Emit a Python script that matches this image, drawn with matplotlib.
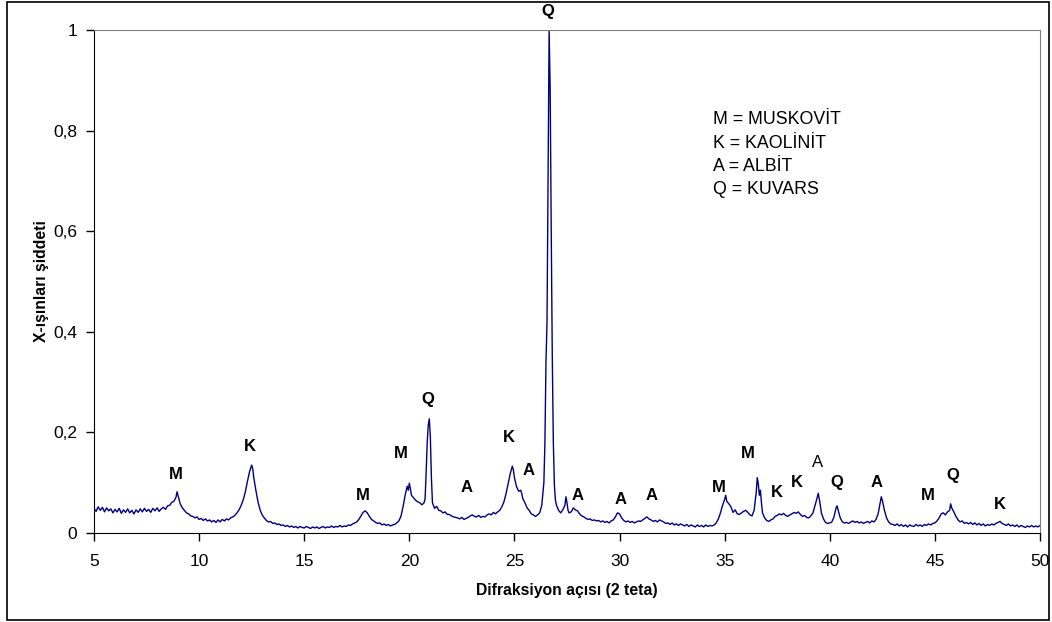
import numpy as np
import matplotlib.pyplot as plt
from matplotlib.patches import Rectangle

plt.rcParams['font.family'] = ['Liberation Sans', 'DejaVu Sans']

# 2 teta (derece)
angle = [
    5.0, 5.1, 5.2, 5.3, 5.4, 5.5, 5.6, 5.7, 5.8, 5.9,
    6.0, 6.1, 6.2, 6.3, 6.4, 6.5, 6.6, 6.7, 6.8, 6.9,
    7.0, 7.1, 7.2, 7.3, 7.4, 7.5, 7.6, 7.7, 7.8, 7.9,
    8.0, 8.1, 8.2, 8.3, 8.4, 8.5, 8.6, 8.7, 8.8, 8.9,
    8.95, 9.0, 9.05, 9.1, 9.2, 9.3, 9.4, 9.5, 9.6, 9.7,
    9.8, 9.9, 10.0, 10.1, 10.2, 10.3, 10.4, 10.5, 10.6, 10.7,
    10.8, 10.9, 11.0, 11.1, 11.2, 11.3, 11.4, 11.5, 11.6, 11.7,
    11.8, 11.9, 12.0, 12.1, 12.2, 12.3, 12.4, 12.5, 12.55, 12.6,
    12.7, 12.8, 12.9, 13.0, 13.1, 13.2, 13.3, 13.4, 13.5, 13.6,
    13.7, 13.8, 13.9, 14.0, 14.1, 14.2, 14.3, 14.4, 14.5, 14.6,
    14.7, 14.8, 14.9, 15.0, 15.1, 15.2, 15.3, 15.4, 15.5, 15.6,
    15.7, 15.8, 15.9, 16.0, 16.1, 16.2, 16.3, 16.4, 16.5, 16.6,
    16.7, 16.8, 16.9, 17.0, 17.1, 17.2, 17.3, 17.4, 17.5, 17.6,
    17.7, 17.8, 17.9, 18.0, 18.1, 18.2, 18.3, 18.4, 18.5, 18.6,
    18.7, 18.8, 18.9, 19.0, 19.1, 19.2, 19.3, 19.4, 19.5, 19.6,
    19.7, 19.8, 19.9, 19.95, 20.0, 20.05, 20.1, 20.2, 20.3, 20.4,
    20.5, 20.6, 20.7, 20.75, 20.8, 20.85, 20.9, 20.95, 21.0, 21.05,
    21.1, 21.2, 21.3, 21.4, 21.5, 21.6, 21.7, 21.8, 21.9, 22.0,
    22.1, 22.2, 22.3, 22.4, 22.5, 22.6, 22.7, 22.8, 22.9, 23.0,
    23.1, 23.2, 23.3, 23.4, 23.5, 23.6, 23.7, 23.8, 23.9, 24.0,
    24.1, 24.2, 24.3, 24.4, 24.5, 24.6, 24.7, 24.8, 24.9, 24.95,
    25.0, 25.1, 25.2, 25.3, 25.35, 25.4, 25.5, 25.6, 25.7, 25.8,
    25.9, 26.0, 26.1, 26.2, 26.3, 26.4, 26.45, 26.5, 26.55, 26.6,
    26.65, 26.7, 26.75, 26.8, 26.85, 26.9, 26.95, 27.0, 27.1, 27.2,
    27.3, 27.4, 27.45, 27.5, 27.55, 27.6, 27.7, 27.8, 27.9, 28.0,
    28.1, 28.2, 28.3, 28.4, 28.5, 28.6, 28.7, 28.8, 28.9, 29.0,
    29.1, 29.2, 29.3, 29.4, 29.5, 29.6, 29.7, 29.8, 29.9, 30.0,
    30.1, 30.2, 30.3, 30.4, 30.5, 30.6, 30.7, 30.8, 30.9, 31.0,
    31.1, 31.2, 31.3, 31.4, 31.5, 31.6, 31.7, 31.8, 31.9, 32.0,
    32.1, 32.2, 32.3, 32.4, 32.5, 32.6, 32.7, 32.8, 32.9, 33.0,
    33.1, 33.2, 33.3, 33.4, 33.5, 33.6, 33.7, 33.8, 33.9, 34.0,
    34.1, 34.2, 34.3, 34.4, 34.5, 34.6, 34.7, 34.8, 34.9, 35.0,
    35.05, 35.1, 35.2, 35.3, 35.4, 35.5, 35.6, 35.7, 35.8, 35.9,
    36.0, 36.1, 36.2, 36.3, 36.4, 36.5, 36.55, 36.6, 36.65, 36.7,
    36.75, 36.8, 36.9, 37.0, 37.1, 37.2, 37.3, 37.4, 37.5, 37.6,
    37.7, 37.8, 37.9, 38.0, 38.1, 38.2, 38.3, 38.4, 38.5, 38.6,
    38.7, 38.8, 38.9, 39.0, 39.1, 39.2, 39.3, 39.4, 39.45, 39.5,
    39.55, 39.6, 39.7, 39.8, 39.9, 40.0, 40.1, 40.2, 40.3, 40.35,
    40.4, 40.5, 40.6, 40.7, 40.8, 40.9, 41.0, 41.1, 41.2, 41.3,
    41.4, 41.5, 41.6, 41.7, 41.8, 41.9, 42.0, 42.1, 42.2, 42.3,
    42.4, 42.45, 42.5, 42.6, 42.7, 42.8, 42.9, 43.0, 43.1, 43.2,
    43.3, 43.4, 43.5, 43.6, 43.7, 43.8, 43.9, 44.0, 44.1, 44.2,
    44.3, 44.4, 44.5, 44.6, 44.7, 44.8, 44.9, 45.0, 45.1, 45.2,
    45.3, 45.4, 45.5, 45.6, 45.7, 45.75, 45.8, 45.9, 46.0, 46.1,
    46.2, 46.3, 46.4, 46.5, 46.6, 46.7, 46.8, 46.9, 47.0, 47.1,
    47.2, 47.3, 47.4, 47.5, 47.6, 47.7, 47.8, 47.9, 48.0, 48.1,
    48.2, 48.3, 48.4, 48.5, 48.6, 48.7, 48.8, 48.9, 49.0, 49.1,
    49.2, 49.3, 49.4, 49.5, 49.6, 49.7, 49.8, 49.9, 50.0,
]

intensity = [
    .049, .043, .052, .045, .051, .042, .050, .044, .048, .040,
    .047, .042, .049, .039, .046, .041, .048, .040, .045, .038,
    .046, .041, .048, .042, .049, .043, .047, .041, .049, .044,
    .050, .043, .048, .051, .047, .054, .055, .061, .063, .071,
    .082, .074, .066, .058, .050, .045, .040, .038, .034, .033,
    .030, .032, .027, .029, .025, .028, .024, .026, .022, .025,
    .021, .026, .022, .027, .024, .028, .026, .030, .032, .035,
    .040, .046, .055, .066, .082, .103, .122, .135, .128, .110,
    .085, .062, .046, .036, .030, .025, .022, .023, .019, .020,
    .017, .018, .015, .016, .013, .015, .012, .014, .011, .013,
    .010, .013, .011, .010, .013, .011, .009, .012, .010, .012,
    .009, .011, .013, .010, .012, .011, .014, .011, .013, .012,
    .015, .012, .014, .013, .016, .015, .018, .020, .022, .027,
    .034, .041, .044, .040, .033, .027, .024, .021, .019, .020,
    .016, .018, .015, .017, .014, .016, .017, .020, .024, .033,
    .052, .075, .093, .085, .099, .088, .075, .070, .065, .062,
    .060, .056, .060, .068, .120, .180, .215, .227, .190, .110,
    .060, .049, .053, .045, .044, .040, .042, .037, .037, .034,
    .032, .031, .030, .028, .031, .027, .029, .031, .034, .036,
    .033, .032, .035, .031, .033, .032, .036, .038, .036, .041,
    .038, .042, .045, .052, .062, .078, .098, .118, .133, .125,
    .110, .092, .083, .085, .078, .068, .060, .050, .045, .038,
    .036, .033, .036, .040, .055, .100, .180, .340, .420, .720,
    1.00, .880, .600, .350, .180, .095, .065, .055, .045, .040,
    .046, .055, .072, .060, .045, .040, .042, .050, .046, .044,
    .038, .034, .032, .029, .027, .028, .025, .026, .024, .025,
    .022, .024, .021, .023, .020, .024, .026, .032, .040, .038,
    .030, .025, .022, .024, .021, .023, .020, .022, .024, .023,
    .026, .029, .032, .028, .026, .023, .025, .022, .026, .024,
    .022, .019, .020, .017, .020, .016, .018, .015, .018, .016,
    .014, .017, .013, .016, .014, .012, .016, .013, .015, .012,
    .016, .013, .015, .014, .016, .020, .028, .040, .055, .067,
    .075, .063, .058, .052, .041, .046, .038, .037, .040, .043,
    .045, .041, .036, .034, .045, .080, .110, .098, .075, .085,
    .060, .040, .030, .025, .023, .026, .028, .033, .035, .038,
    .036, .039, .035, .033, .036, .038, .041, .039, .042, .037,
    .033, .035, .031, .030, .034, .040, .055, .070, .079, .068,
    .055, .040, .028, .021, .019, .020, .022, .032, .050, .054,
    .045, .030, .022, .020, .021, .019, .022, .024, .021, .023,
    .020, .022, .019, .021, .023, .020, .024, .022, .027, .038,
    .060, .072, .065, .045, .030, .022, .018, .017, .015, .018,
    .014, .017, .013, .016, .012, .016, .014, .013, .017, .014,
    .016, .013, .017, .015, .018, .016, .019, .020, .024, .030,
    .038, .040, .036, .042, .045, .058, .050, .042, .033, .026,
    .022, .024, .019, .021, .018, .021, .017, .020, .016, .019,
    .015, .018, .014, .017, .015, .018, .016, .019, .021, .023,
    .019, .017, .015, .018, .014, .016, .013, .016, .012, .015,
    .013, .011, .014, .012, .015, .012, .014, .012, .015,
]
assert len(angle) == len(intensity)

# pik etiketleri
peak_labels = ['M', 'K', 'M', 'M', 'Q', 'A', 'K', 'A', 'Q', 'A', 'A', 'A',
               'M', 'M', 'K', 'K', 'A', 'Q', 'A', 'M', 'Q', 'K']
label_x = [8.9, 12.42, 17.8, 19.6, 20.9, 22.7, 24.74, 25.65, 26.6, 27.98, 30.07, 31.5,
           34.73, 36.11, 37.49, 38.44, 39.44, 40.35, 42.25, 44.68, 45.87, 48.1]
label_y = [0.117, 0.171, 0.074, 0.159, 0.266, 0.091, 0.189, 0.125, 1.036, 0.074, 0.066, 0.074,
           0.091, 0.159, 0.081, 0.100, 0.141, 0.100, 0.100, 0.074, 0.115, 0.056]
label_bold = [True] * 16 + [False] + [True] * 5

legend_lines = ['M = MUSKOVİT', 'K = KAOLİNİT', 'A = ALBİT', 'Q = KUVARS']

fig = plt.figure(figsize=(10.52, 6.22), dpi=100)
ax = fig.add_axes([94 / 1052, 89 / 622, 946 / 1052, 503 / 622])

ax.plot(angle, intensity, color='#000080', linewidth=1.0)

ax.set_xlim(5, 50)
ax.set_ylim(0, 1)
ax.set_xticks(range(5, 51, 5))
ax.set_yticks([0, 0.2, 0.4, 0.6, 0.8, 1])
ax.set_yticklabels(['0', '0,2', '0,4', '0,6', '0,8', '1'])
ax.tick_params(direction='out', length=6, width=1, labelsize=12.5)
ax.tick_params(axis='x', pad=9)
ax.tick_params(axis='y', pad=6)

for s in ['top', 'right']:
    ax.spines[s].set_color('#808080')
for s in ['left', 'bottom']:
    ax.spines[s].set_color('black')

ax.set_xlabel('Difraksiyon açısı (2 teta)', fontsize=11.3, fontweight='bold', labelpad=10)
ax.set_ylabel('X-ışınları şiddeti', fontsize=11.3, fontweight='bold', labelpad=3)

for t, x, y, b in zip(peak_labels, label_x, label_y, label_bold):
    ax.text(x, y, t, ha='center', va='center', fontsize=12,
            fontweight='bold' if b else 'normal', clip_on=False)

for i, line in enumerate(legend_lines):
    fig.text(713 / 1052, 1 - (120 + 23.3 * i) / 622, line, ha='left', va='center', fontsize=12.8)

fig.patches.append(Rectangle((7 / 1052, 2 / 622), 1042 / 1052, 618 / 622,
                             transform=fig.transFigure, fill=False, edgecolor='black', linewidth=1.2))

fig.savefig('out.png', dpi=100)
